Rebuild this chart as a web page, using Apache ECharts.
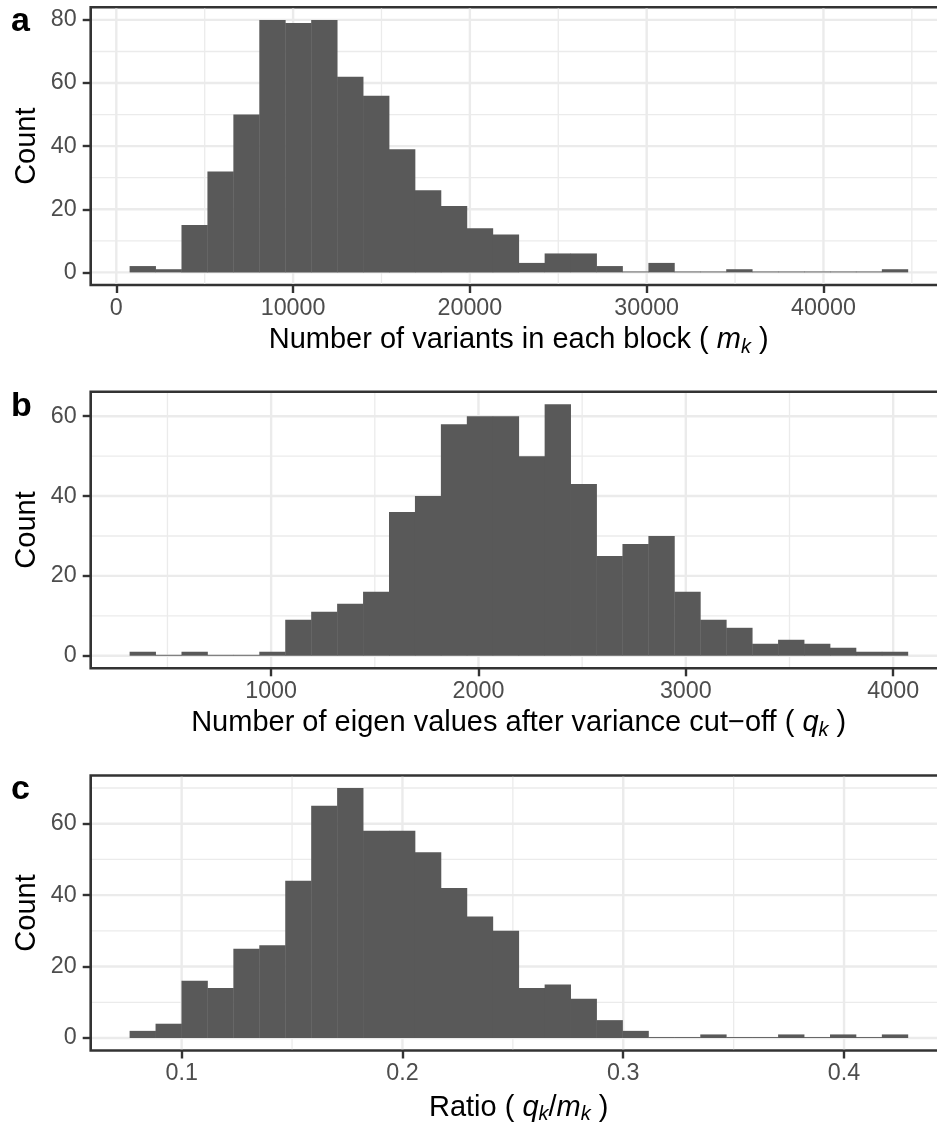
<!DOCTYPE html>
<html>
<head>
<meta charset="utf-8">
<script src="https://cdn.jsdelivr.net/npm/echarts@6/dist/echarts.min.js"></script>
<style>
  html, body { margin: 0; padding: 0; background: #ffffff; }
  #chart { width: 937px; height: 1128px; }
</style>
</head>
<body>
<div id="chart"></div>
<script>
// (a) number of variants per block: 30 equal-width bins
const variantBinStart = 752;
const variantBinWidth = 1467.3;
const variantCounts = [2, 1, 15, 32, 50, 80, 79, 80, 62, 56, 39, 26, 21, 14, 12, 3, 6, 6, 2, 0, 3, 0, 0, 1, 0, 0, 0, 0, 0, 1];
const variantTicks = [0, 10000, 20000, 30000, 40000];
const variantMinor = [5000, 15000, 25000, 35000, 45000];
const variantCountTicks = [0, 20, 40, 60, 80];
const variantCountMinor = [10, 30, 50, 70];

// (b) number of eigenvalues kept after the variance cut-off
const eigenBinStart = 317.5;
const eigenBinWidth = 125.1;
const eigenCounts = [1, 0, 1, 0, 0, 1, 9, 11, 13, 16, 36, 40, 58, 60, 60, 50, 63, 43, 25, 28, 30, 16, 9, 7, 3, 4, 3, 2, 1, 1];
const eigenTicks = [1000, 2000, 3000, 4000];
const eigenMinor = [500, 1500, 2500, 3500];
const eigenCountTicks = [0, 20, 40, 60];
const eigenCountMinor = [10, 30, 50];

// (c) ratio q_k / m_k
const ratioBinStart = 0.07643;
const ratioBinWidth = 0.011748;
const ratioCounts = [2, 4, 16, 14, 25, 26, 44, 65, 70, 58, 58, 52, 42, 34, 30, 14, 15, 11, 5, 2, 0, 0, 1, 0, 0, 1, 0, 1, 0, 1];
const ratioTicks = [0.1, 0.2, 0.3, 0.4];
const ratioMinor = [0.15, 0.25, 0.35];
const ratioCountTicks = [0, 20, 40, 60];
const ratioCountMinor = [10, 30, 50, 70];

const FONT = '"Liberation Sans", Arial, Helvetica, sans-serif';
const BAR_FILL = '#595959';
const BORDER = '#333333';
const GRID_LINE = '#EBEBEB';

// ggplot-style limits: 5% padding around the data range
function paddedRange(lo, hi) {
  const pad = (hi - lo) * 0.05;
  return [lo - pad, hi + pad];
}

function histItems(start, width, counts) {
  return counts.map((c, i) => [start + i * width, start + (i + 1) * width, c]);
}

function gridLineItems(xMajor, xMinor, yMajor, yMinor) {
  const items = [];
  xMinor.forEach(v => items.push([v, 0, 0]));
  yMinor.forEach(v => items.push([v, 1, 0]));
  xMajor.forEach(v => items.push([v, 0, 1]));
  yMajor.forEach(v => items.push([v, 1, 1]));
  return items;
}

function renderGridLine(params, api) {
  const cs = params.coordSys;
  const v = api.value(0);
  const horizontal = api.value(1) === 1;
  const major = api.value(2) === 1;
  const inset = 1.3;
  let shape;
  if (horizontal) {
    const y = api.coord([0, v])[1];
    shape = { x1: cs.x + inset, y1: y, x2: cs.x + cs.width - inset, y2: y };
  } else {
    const x = api.coord([v, 0])[0];
    shape = { x1: x, y1: cs.y + inset, x2: x, y2: cs.y + cs.height - inset };
  }
  return {
    type: 'line',
    shape: shape,
    style: { stroke: GRID_LINE, lineWidth: major ? 2.4 : 1.3 }
  };
}

function renderBin(params, api) {
  const base = api.coord([api.value(0), 0]);
  const top = api.coord([api.value(1), api.value(2)]);
  const h = Math.max(base[1] - top[1], 0.9);
  return {
    type: 'rect',
    shape: { x: base[0], y: base[1] - h, width: top[0] - base[0] + 0.4, height: h },
    style: { fill: BAR_FILL }
  };
}

const RICH = {
  n: { fontSize: 29, color: '#000', fontFamily: FONT, lineHeight: 34 },
  i: { fontSize: 29, color: '#000', fontFamily: FONT, fontStyle: 'italic', lineHeight: 34 },
  s: { fontSize: 20, color: '#000', fontFamily: FONT, fontStyle: 'italic', lineHeight: 20, padding: [14, 0, 0, 0] }
};

const panels = [
  {
    letter: 'a', top: 7.3, height: 277.7,
    start: variantBinStart, width: variantBinWidth, counts: variantCounts,
    xTicks: variantTicks, xMinor: variantMinor, yTicks: variantCountTicks, yMinor: variantCountMinor,
    name: '{n|Number of variants in each block ( }{i|m}{s|k}{n| )}', nameGap: 38
  },
  {
    letter: 'b', top: 391.7, height: 276.6,
    start: eigenBinStart, width: eigenBinWidth, counts: eigenCounts,
    xTicks: eigenTicks, xMinor: eigenMinor, yTicks: eigenCountTicks, yMinor: eigenCountMinor,
    name: '{n|Number of eigen values after variance cut\u2212off ( }{i|q}{s|k}{n| )}', nameGap: 38
  },
  {
    letter: 'c', top: 775.5, height: 275,
    start: ratioBinStart, width: ratioBinWidth, counts: ratioCounts,
    xTicks: ratioTicks, xMinor: ratioMinor, yTicks: ratioCountTicks, yMinor: ratioCountMinor,
    name: '{n|Ratio ( }{i|q}{s|k}{n|/}{i|m}{s|k}{n| )}', nameGap: 40
  }
];

const letterTops = [5, 390, 773];

const option = {
  animation: false,
  backgroundColor: '#ffffff',
  textStyle: { fontFamily: FONT },
  title: panels.map((p, k) => ({
    text: p.letter,
    left: 11,
    top: letterTops[k],
    padding: 0,
    textStyle: { fontSize: 34, fontWeight: 'bold', color: '#000', fontFamily: FONT }
  })),
  grid: panels.map(p => ({
    left: 90.7, top: p.top, width: 856, height: p.height,
    show: true, backgroundColor: '#ffffff', borderColor: BORDER, borderWidth: 2.6,
    containLabel: false, outerBoundsMode: 'none'
  })),
  xAxis: panels.map((p, k) => {
    const range = paddedRange(p.start, p.start + p.width * p.counts.length);
    return {
      type: 'value', gridIndex: k, min: range[0], max: range[1],
      axisLine: { show: false, onZero: false },
      axisTick: { show: true, customValues: p.xTicks, length: 8, lineStyle: { color: BORDER, width: 2.4 } },
      axisLabel: { customValues: p.xTicks, margin: 12, color: '#4D4D4D', fontSize: 23.3, fontFamily: FONT, formatter: v => String(v) },
      splitLine: { show: false }, minorTick: { show: false }, minorSplitLine: { show: false },
      name: p.name, nameLocation: 'middle', nameGap: p.nameGap, nameMoveOverlap: false,
      nameTextStyle: { fontSize: 29, color: '#000', fontFamily: FONT, rich: RICH }
    };
  }),
  yAxis: panels.map((p, k) => {
    const top = Math.max(...p.counts);
    const range = paddedRange(0, top);
    return {
      type: 'value', gridIndex: k, min: range[0], max: range[1],
      axisLine: { show: false, onZero: false },
      axisTick: { show: true, customValues: p.yTicks, length: 8, lineStyle: { color: BORDER, width: 2.4 } },
      axisLabel: { customValues: p.yTicks, margin: 14, color: '#4D4D4D', fontSize: 23.3, fontFamily: FONT, formatter: v => String(v) },
      splitLine: { show: false }, minorTick: { show: false }, minorSplitLine: { show: false },
      name: 'Count', nameLocation: 'middle', nameGap: 49.5, nameMoveOverlap: false,
      nameTextStyle: { fontSize: 29, color: '#000', fontFamily: FONT }
    };
  }),
  series: panels.flatMap((p, k) => [
    {
      type: 'custom', xAxisIndex: k, yAxisIndex: k, z: 1, silent: true,
      renderItem: renderGridLine,
      data: gridLineItems(p.xTicks, p.xMinor, p.yTicks, p.yMinor)
    },
    {
      type: 'custom', xAxisIndex: k, yAxisIndex: k, z: 2, silent: true,
      renderItem: renderBin,
      encode: { x: [0, 1], y: 2 },
      data: histItems(p.start, p.width, p.counts)
    }
  ])
};

const chart = echarts.init(document.getElementById('chart'), null, { renderer: 'canvas' });
chart.setOption(option);
</script>
</body>
</html>
